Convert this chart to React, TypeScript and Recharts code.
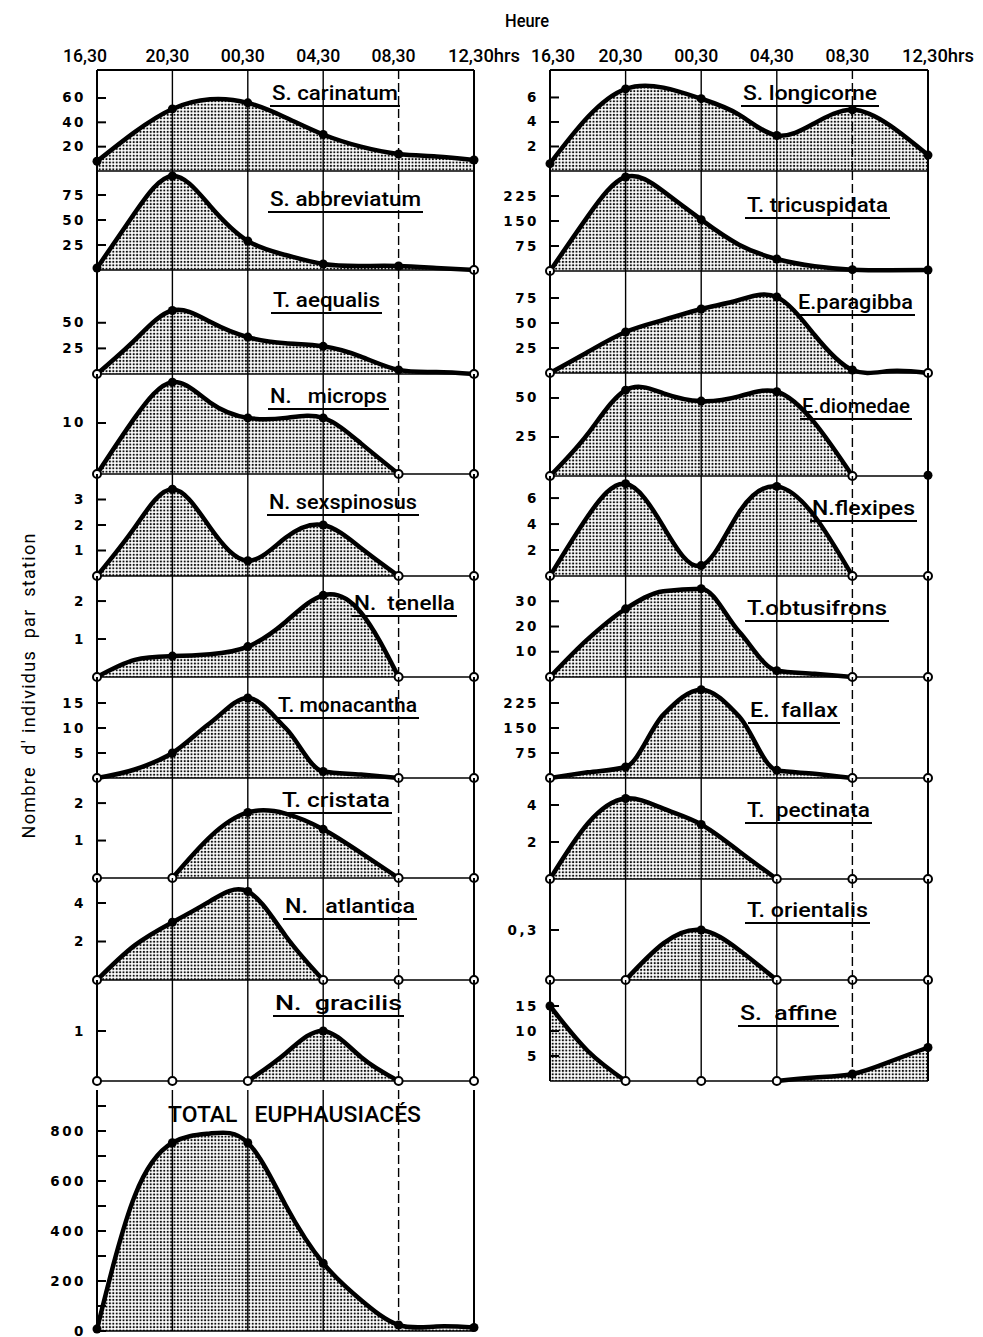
import React from "react";
import {
  ComposedChart,
  Area,
  Scatter,
  XAxis,
  YAxis,
  ReferenceLine,
} from "recharts";

// sampling every 2 h from 16.30 (0) to 12.30 (20); stations every 4 h
const hours = [0, 2, 4, 6, 8, 10, 12, 14, 16, 18, 20];
const stationHours = [0, 4, 8, 12, 16, 20];
const timeLabels = ["16,30", "20,30", "00,30", "04,30", "08,30", "12,30hrs"];

// left column (null = species absent, curve not drawn)
const sCarinatum = [8, 32, 51, 59, 56, 44, 30, 20, 14, 12, 9];
const sAbbreviatum = [2, 57, 94, 64, 29, 15, 6, 4, 4, 2, 0];
const tAequalis = [0, 33, 62, 51, 36, 30, 27, 17, 4, 2, 0];
const nMicrops = [0, 11, 18, 14, 11, 11, 11, 6, 0, null, null];
const nSexspinosus = [0, 1.9, 3.4, 1.9, 0.6, 1.5, 2.0, 1.1, 0, null, null];
const nTenella = [0, 0.45, 0.55, 0.6, 0.8, 1.45, 2.15, 1.7, 0, null, null];
const tMonacantha = [0, 1.7, 5, 11, 16, 10, 1.3, 0.7, 0, null, null];
const tCristata = [null, null, 0, 1.1, 1.75, 1.72, 1.3, 0.67, 0, null, null];
const nAtlantica = [0, 1.8, 3.0, 4.1, 4.6, 2.3, 0, null, null, null, null];
const nGracilis = [null, null, null, null, 0, 0.55, 1.0, 0.48, 0, null, null];
const totalEuphausiaces = [8, 540, 753, 790, 753, 504, 271, 124, 24, 18, 14];

// right column
const sLongicorne = [0.6, 4.4, 6.7, 6.8, 5.9, 4.6, 2.9, 3.9, 5.0, 3.7, 1.3];
const tTricuspidata = [0, 164, 282, 239, 154, 79, 36, 14, 4, 2, 3];
const eParagibba = [0, 21, 41, 53, 64, 73, 76, 38, 3, 2, 0];
const eDiomedae = [0, 27, 55, 53, 48, 51, 54, 34, 0, null, 0.5];
const nFlexipes = [0, 4.6, 7.1, 3.8, 0.8, 4.9, 6.9, 4.6, 0, null, null];
const tObtusifrons = [0, 15, 27, 34, 35, 18, 2.5, 1.3, 0, null, null];
const eFallax = [0, 17, 33, 190, 265, 185, 23, 13, 0, null, null];
const tPectinata = [0, 3.0, 4.35, 3.8, 2.95, 1.5, 0, null, null, null, null];
const tOrientalis = [null, null, 0, 0.22, 0.3, 0.18, 0, null, null, null, null];
const sAffine = [15, 6, 0, null, null, null, 0, 0.7, 1.4, 3.9, 6.7];

const totalTicks = [0, 100, 200, 300, 400, 500, 600, 700, 800, 900];

const COLS = [
  { left: 97, right: 474, firstDx: -12 },
  { left: 550, right: 928, firstDx: 3 },
];

const TITLE_FONT = "Roboto, 'Noto Sans', 'DejaVu Sans', sans-serif";
const BOLD = "'DejaVu Sans', Verdana, sans-serif";

type Panel = {
  title: string;
  values: (number | null)[];
  col: number;
  top: number;
  base: number;
  yMax: number;
  ticks: number[];
  every?: number;
  first?: boolean;
  curve?: "natural" | "monotone";
  label: [number, number, number]; // x, baseline, width
  underline?: boolean;
};

const panels: Panel[] = [
  { title: "S. carinatum", values: sCarinatum, col: 0, top: 70, base: 171, yMax: 83, ticks: [20, 40, 60], first: true, label: [272, 100, 126] },
  { title: "S. abbreviatum", values: sAbbreviatum, col: 0, top: 171, base: 270, yMax: 99, ticks: [25, 50, 75], label: [270, 206, 151] },
  { title: "T. aequalis", values: tAequalis, col: 0, top: 270, base: 374, yMax: 101.5, ticks: [25, 50], label: [273, 307, 107] },
  { title: "N.   microps", values: nMicrops, col: 0, top: 374, base: 474, yMax: 19.6, ticks: [10], label: [270, 403, 117] },
  { title: "N. sexspinosus", values: nSexspinosus, col: 0, top: 474, base: 576, yMax: 4.0, ticks: [1, 2, 3], label: [269, 509, 148] },
  { title: "N.  tenella", values: nTenella, col: 0, top: 576, base: 677, yMax: 2.66, ticks: [1, 2], label: [354, 610, 101] },
  { title: "T. monacantha", values: tMonacantha, col: 0, top: 677, base: 778, yMax: 20.2, ticks: [5, 10, 15], curve: "monotone", label: [278, 712, 139] },
  { title: "T. cristata", values: tCristata, col: 0, top: 778, base: 878, yMax: 2.67, ticks: [1, 2], label: [282, 807, 108] },
  { title: "N.   atlantica", values: nAtlantica, col: 0, top: 878, base: 980, yMax: 5.3, ticks: [2, 4], label: [285, 913, 130] },
  { title: "N.  gracilis", values: nGracilis, col: 0, top: 980, base: 1081, yMax: 2.02, ticks: [1], label: [275, 1010, 127] },
  { title: "TOTAL   EUPHAUSIACÉS", values: totalEuphausiaces, col: 0, top: 1090, base: 1331, yMax: 964, ticks: totalTicks, every: 200, label: [168, 1122, 253], underline: false },

  { title: "S. longicorne", values: sLongicorne, col: 1, top: 70, base: 171, yMax: 8.24, ticks: [2, 4, 6], first: true, label: [743, 100, 134] },
  { title: "T. tricuspidata", values: tTricuspidata, col: 1, top: 171, base: 271, yMax: 300, ticks: [75, 150, 225], label: [747, 212, 141] },
  { title: "E.paragibba", values: eParagibba, col: 1, top: 271, base: 373, yMax: 102, ticks: [25, 50, 75], label: [798, 309, 115] },
  { title: "E.diomedae", values: eDiomedae, col: 1, top: 373, base: 476, yMax: 66, ticks: [25, 50], label: [802, 413, 108] },
  { title: "N.flexipes", values: nFlexipes, col: 1, top: 476, base: 576, yMax: 7.7, ticks: [2, 4, 6], label: [812, 515, 103] },
  { title: "T.obtusifrons", values: tObtusifrons, col: 1, top: 576, base: 677, yMax: 40, ticks: [10, 20, 30], curve: "monotone", label: [747, 615, 140] },
  { title: "E.  fallax", values: eFallax, col: 1, top: 677, base: 778, yMax: 303, ticks: [75, 150, 225], curve: "monotone", label: [750, 717, 88] },
  { title: "T.  pectinata", values: tPectinata, col: 1, top: 778, base: 879, yMax: 5.46, ticks: [2, 4], label: [747, 817, 123] },
  { title: "T. orientalis", values: tOrientalis, col: 1, top: 879, base: 980, yMax: 0.606, ticks: [0.3], label: [747, 917, 121] },
  { title: "S.  affine", values: sAffine, col: 1, top: 980, base: 1081, yMax: 20.2, ticks: [5, 10, 15], label: [740, 1020, 97] },
];

const AXIS_W = 50;
const RIGHT_PAD = 52;
const TOP_AXIS_H = 35;

function StationDot(props: any) {
  const { cx, cy, payload } = props;
  if (cx == null || cy == null) return <g />;
  return payload.open ? (
    <circle cx={cx} cy={cy} r={4} fill="#fff" stroke="#000" strokeWidth={2} />
  ) : (
    <circle cx={cx} cy={cy} r={4.5} fill="#000" />
  );
}

function makeTimeTick(firstDx: number) {
  return (props: any) => {
    const { x, payload, index } = props;
    const last = index === timeLabels.length - 1;
    const label = timeLabels[index] ?? String(payload.value);
    return (
      <text
        x={last ? x - 26 : x + (index === 0 ? firstDx : -5)}
        y={27}
        textAnchor={last ? "start" : "middle"}
        fontFamily={TITLE_FONT}
        fontWeight={500}
        fontSize={18}
        textLength={last ? 72 : 44}
        lengthAdjust="spacingAndGlyphs"
        fill="#000"
      >
        {label}
      </text>
    );
  };
}

function makeYTick(every?: number) {
  return (props: any) => {
    const { x, y, payload } = props;
    const v = payload.value as number;
    const show = every ? v % every === 0 : true;
    return (
      <g>
        <line x1={x} x2={x + 9} y1={y} y2={y} stroke="#000" strokeWidth={2} />
        {show && (
          <text
            x={x - 11}
            y={y}
            dy={4.5}
            textAnchor="end"
            fontFamily={BOLD}
            fontWeight="bold"
            fontSize={13.5}
            letterSpacing={2.5}
            fill="#000"
          >
            {String(v).replace(".", ",")}
          </text>
        )}
      </g>
    );
  };
}

function SpeciesChart({ p, idx }: { p: Panel; idx: number }) {
  const col = COLS[p.col];
  const plotW = col.right - col.left;
  const axisH = p.first ? TOP_AXIS_H : 0;
  const mt = p.first ? 0 : 6;
  const mb = 6;
  const h = p.base - p.top;
  const data = hours.map((hr, i) => ({ h: hr, v: p.values[i] }));
  const stations = stationHours.map((hr, i) => {
    const v = p.values[i * 2];
    return { h: hr, v: v ?? 0, open: !(v != null && v > 0) };
  });
  const pid = `stipple-${idx}`;

  return (
    <div
      style={{
        position: "absolute",
        left: col.left - AXIS_W,
        top: p.top - axisH - mt,
      }}
    >
      <ComposedChart
        width={AXIS_W + plotW + RIGHT_PAD}
        height={axisH + mt + h + mb}
        data={data}
        margin={{ top: mt, right: RIGHT_PAD, bottom: mb, left: 0 }}
      >
        <defs>
          <pattern id={pid} width={3.4} height={3.4} patternUnits="userSpaceOnUse">
            <circle cx={1.7} cy={1.7} r={1.1} fill="#111" />
          </pattern>
        </defs>
        <XAxis
          type="number"
          dataKey="h"
          domain={[0, 20]}
          ticks={stationHours}
          orientation="top"
          hide={!p.first}
          height={axisH}
          axisLine={false}
          tickLine={false}
          interval={0}
          tick={makeTimeTick(col.firstDx)}
        />
        <YAxis
          type="number"
          dataKey="v"
          domain={[0, p.yMax]}
          ticks={p.ticks}
          width={AXIS_W}
          interval={0}
          tickSize={0}
          tickMargin={0}
          tickLine={false}
          axisLine={{ stroke: "#000", strokeWidth: 2 }}
          tick={makeYTick(p.every)}
        />
        <Area
          type={p.curve ?? "natural"}
          dataKey="v"
          stroke="#000"
          strokeWidth={4.5}
          fill={`url(#${pid})`}
          fillOpacity={1}
          connectNulls={false}
          dot={false}
          activeDot={false}
          isAnimationActive={false}
        />
        {stationHours.map((hr) => (
          <ReferenceLine
            key={hr}
            x={hr}
            stroke="#000"
            strokeWidth={hr === 0 || hr === 20 ? 2 : 1.4}
            strokeDasharray={hr === 16 ? "9 4" : undefined}
          />
        ))}
        <ReferenceLine y={0} stroke="#000" strokeWidth={1.6} />
        {p.first && <ReferenceLine y={p.yMax} stroke="#000" strokeWidth={2} />}
        <Scatter
          data={stations}
          dataKey="v"
          shape={StationDot}
          isAnimationActive={false}
        />
      </ComposedChart>
    </div>
  );
}

export default function App() {
  return (
    <div
      style={{
        position: "absolute",
        left: 0,
        top: 0,
        width: 983,
        height: 1337,
        background: "#fff",
        overflow: "hidden",
      }}
    >
      {panels.map((p, i) => (
        <SpeciesChart key={p.title} p={p} idx={i} />
      ))}
      <svg
        width={983}
        height={1337}
        style={{ position: "absolute", left: 0, top: 0, pointerEvents: "none" }}
      >
        <text
          x={527}
          y={27}
          textAnchor="middle"
          fontFamily={TITLE_FONT}
          fontWeight={500}
          fontSize={18}
          textLength={44}
          lengthAdjust="spacingAndGlyphs"
        >
          Heure
        </text>
        <text
          transform="translate(35, 686) rotate(-90)"
          textAnchor="middle"
          fontFamily="Roboto, 'Noto Sans', sans-serif"
          fontSize={18}
          textLength={305}
          lengthAdjust="spacing"
          style={{ whiteSpace: "pre" }}
        >
          {"Nombre  d' individus  par  station"}
        </text>
        {panels.map((p) => {
          const [x, y, w] = p.label;
          return (
            <g key={p.title}>
              <text
                x={x}
                y={y}
                fontFamily={TITLE_FONT}
                fontWeight={500}
                fontSize={p.underline === false ? 22 : 21}
                textLength={w}
                lengthAdjust="spacingAndGlyphs"
                style={{ whiteSpace: "pre" }}
                fill="#000"
              >
                {p.title}
              </text>
              {p.underline !== false && (
                <line
                  x1={x - 2}
                  x2={x + w + 2}
                  y1={y + 6}
                  y2={y + 6}
                  stroke="#000"
                  strokeWidth={2}
                />
              )}
            </g>
          );
        })}
      </svg>
    </div>
  );
}
